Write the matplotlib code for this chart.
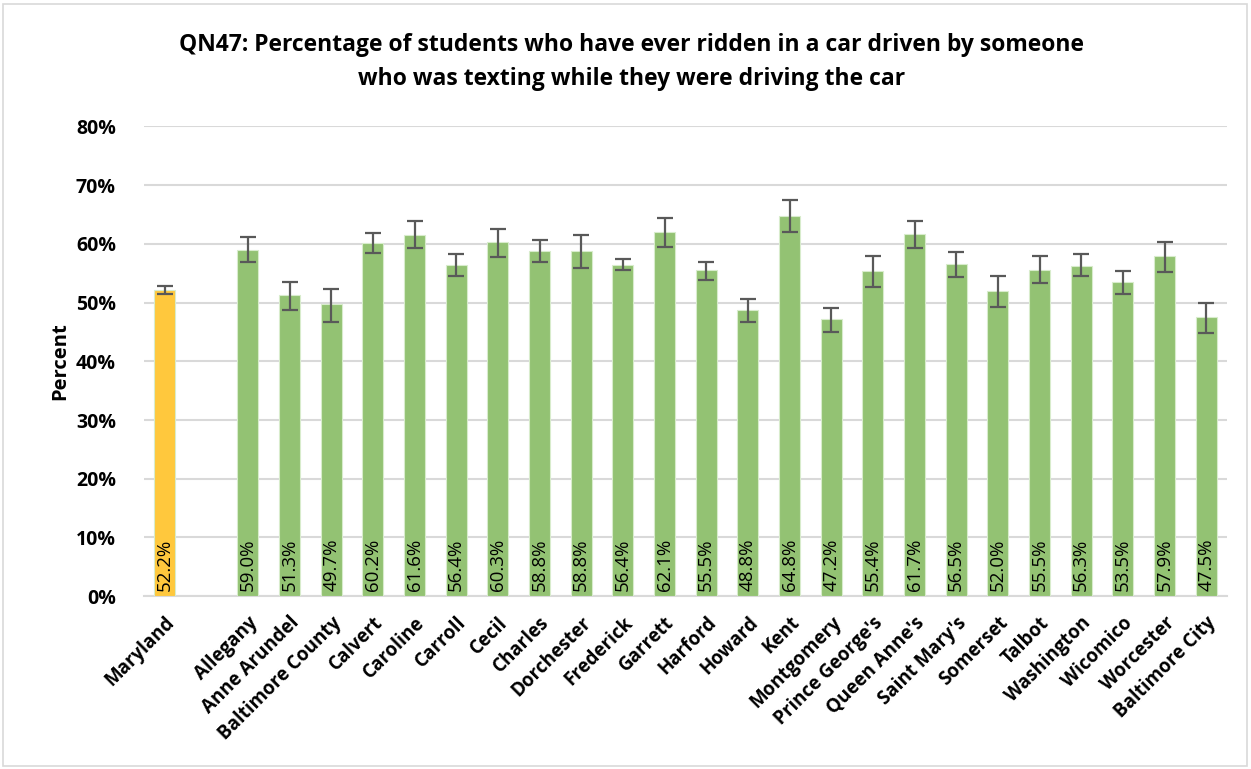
import matplotlib
matplotlib.use("Agg")
import matplotlib.pyplot as plt
from matplotlib.patches import Rectangle
import numpy as np

categories = ["Maryland", "", "Allegany", "Anne Arundel", "Baltimore County", "Calvert",
              "Caroline", "Carroll", "Cecil", "Charles", "Dorchester", "Frederick",
              "Garrett", "Harford", "Howard", "Kent", "Montgomery", "Prince George's",
              "Queen Anne's", "Saint Mary's", "Somerset", "Talbot", "Washington",
              "Wicomico", "Worcester", "Baltimore City"]
values = [52.2, None, 59.0, 51.3, 49.7, 60.2, 61.6, 56.4, 60.3, 58.8, 58.8, 56.4,
          62.1, 55.5, 48.8, 64.8, 47.2, 55.4, 61.7, 56.5, 52.0, 55.5, 56.3,
          53.5, 57.9, 47.5]
lower_ci = [51.5, None, 56.9, 48.8, 46.7, 58.4, 59.3, 54.5, 57.8, 56.9, 55.9, 55.5,
            59.5, 53.9, 46.7, 62.1, 45.0, 52.6, 59.3, 54.4, 49.2, 53.4, 54.5,
            51.5, 55.3, 44.8]
upper_ci = [52.9, None, 61.1, 53.6, 52.4, 61.8, 63.9, 58.2, 62.6, 60.6, 61.5, 57.5,
            64.5, 56.9, 50.7, 67.4, 49.1, 58.0, 63.9, 58.7, 54.5, 57.9, 58.2,
            55.4, 60.3, 50.0]

title = ("QN47: Percentage of students who have ever ridden in a car driven by someone\n"
         "who was texting while they were driving the car")

FONT = ["Open Sans", "DejaVu Sans"]
plt.rcParams["font.family"] = FONT

fig = plt.figure(figsize=(12.51, 7.69), dpi=100)
ax = fig.add_axes([143.7 / 1251, 1 - 596.2 / 769, (1227 - 143.7) / 1251, (596.2 - 126.5) / 769])

x = np.arange(len(categories))
idx = [i for i, v in enumerate(values) if v is not None]
vals = np.array([values[i] for i in idx])
lo = np.array([lower_ci[i] for i in idx])
hi = np.array([upper_ci[i] for i in idx])
colors = ["#FFC83D" if categories[i] == "Maryland" else "#93C273" for i in idx]

ax.bar(x[idx], vals, width=0.5, color=colors, edgecolor="#d8eccc", linewidth=0.8, zorder=3)
ax.errorbar(x[idx], vals, yerr=[vals - lo, hi - vals], fmt="none", ecolor="#595959",
            elinewidth=1.6, capsize=6, capthick=1.6, zorder=4)

for xi, v in zip(x[idx], vals):
    ax.text(xi, 0.9, f"{v:.1f}%", rotation=90, ha="center", va="bottom",
            fontsize=13.5, color="black", zorder=5)

ax.set_xlim(-0.5, len(categories) - 0.5)
ax.set_ylim(0, 80)
ax.set_yticks(np.arange(0, 81, 10))
ax.set_yticklabels([f"{t}%" for t in range(0, 81, 10)], fontsize=14, fontweight="bold")
ax.set_xticks(x)
ax.set_xticklabels(categories, rotation=45, ha="right", rotation_mode="anchor",
                   fontsize=13.5, fontweight="bold")
ax.tick_params(axis="y", length=0, pad=20)
ax.tick_params(axis="x", length=0, pad=12)
ax.grid(axis="y", color="#d9d9d9", linewidth=1.5, zorder=0)
for s in ["top", "right", "left"]:
    ax.spines[s].set_visible(False)
ax.spines["bottom"].set_color("#d9d9d9")
ax.spines["bottom"].set_linewidth(1.5)
ax.set_ylabel("Percent", fontsize=14.5, fontweight="bold", labelpad=4)

fig.text(0.505, 1 - 62 / 769, title, ha="center", va="center", fontsize=16.5,
         fontweight="bold", linespacing=1.6)

fig.patches.append(Rectangle((3 / 1251, 3 / 769), 1 - 7 / 1251, 1 - 7 / 769,
                             transform=fig.transFigure, fill=False,
                             edgecolor="#d9d9d9", linewidth=1.2))

fig.savefig("out.png", dpi=100)
